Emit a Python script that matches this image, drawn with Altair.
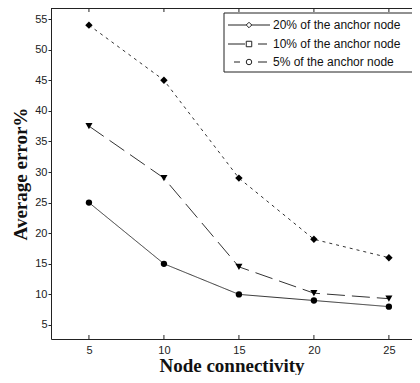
import altair as alt
import pandas as pd

# ---- data ----
node_connectivity = [5, 10, 15, 20, 25]
err_20 = [54, 45, 29, 19, 16]          # dotted, diamond markers
err_10 = [25, 15, 10, 9, 8]            # solid, circle markers
err_5 = [37.5, 29, 14.5, 10.2, 9.3]    # dashed, triangle markers
legend_labels = ["20% of the anchor node", "10% of the anchor node", "5% of the anchor node"]
x_ticks = [5, 10, 15, 20, 25]
y_ticks = [5, 10, 15, 20, 25, 30, 35, 40, 45, 50, 55]

W, H = 361, 331
XDOM = [2.47, 26.54]
YDOM = [2.71, 56.8]

df = pd.DataFrame({
    "x": node_connectivity * 3,
    "y": err_20 + err_10 + err_5,
    "series": [legend_labels[0]] * 5 + [legend_labels[1]] * 5 + [legend_labels[2]] * 5,
})

xs = alt.Scale(domain=XDOM, nice=False, zero=False)
ys = alt.Scale(domain=YDOM, nice=False, zero=False)

x_axis = alt.Axis(values=x_ticks, tickSize=0, labelPadding=5, grid=False, labelOverlap=False,
                  labelFont="Liberation Sans", labelFontSize=11, labelColor="#222",
                  domainColor="#222", title="Node connectivity",
                  titleFont="Liberation Serif", titleFontSize=19, titleFontWeight="bold",
                  titleColor="#111", titlePadding=1)
y_axis = alt.Axis(values=y_ticks, tickSize=3, labelPadding=1, grid=False, labelOverlap=False,
                  labelFont="Liberation Sans", labelFontSize=11, labelColor="#222",
                  domainColor="#222", tickColor="#222", title="Average error%",
                  titleFont="Liberation Serif", titleFontSize=19, titleFontWeight="bold",
                  titleColor="#111", titlePadding=4)

styles = [
    (legend_labels[0], [3, 4], "diamond", 55),
    (legend_labels[1], [1, 0], "circle", 40),
    (legend_labels[2], [18, 7], "triangle-down", 50),
]

layers = []
for name, dash, shape, size in styles:
    base = alt.Chart(df).transform_filter(alt.datum.series == name)
    enc_x = alt.X("x:Q", scale=xs, axis=x_axis)
    enc_y = alt.Y("y:Q", scale=ys, axis=y_axis)
    layers.append(base.mark_line(color="#333", strokeWidth=1, strokeDash=dash).encode(x=enc_x, y=enc_y))
    layers.append(base.mark_point(shape=shape, filled=True, color="#000", size=size, opacity=1)
                  .encode(x=enc_x, y=enc_y))

# top border of the box (right border lies outside the picture)
one = pd.DataFrame({"a": [0]})
layers.append(alt.Chart(one).mark_rule(color="#222", strokeWidth=1)
              .encode(x=alt.value(0), x2=alt.value(W), y=alt.value(0.5)))

# inward x ticks at bottom and top
tick_df = pd.DataFrame({"x": x_ticks})
layers.append(alt.Chart(tick_df).mark_rule(color="#222", strokeWidth=1)
              .encode(x=alt.X("x:Q", scale=xs, axis=x_axis), y=alt.value(H - 4), y2=alt.value(H)))
layers.append(alt.Chart(tick_df).mark_rule(color="#222", strokeWidth=1)
              .encode(x=alt.X("x:Q", scale=xs, axis=x_axis), y=alt.value(0), y2=alt.value(4)))

# custom legend
layers.append(alt.Chart(one).mark_rect(fill="white", stroke="#222", strokeWidth=1)
              .encode(x=alt.value(173), x2=alt.value(362), y=alt.value(5), y2=alt.value(64)))
row_y = [17, 36, 54]
leg_shapes = ["diamond", "square", "circle"]
for i, lab in enumerate(legend_labels):
    yy = row_y[i]
    if i == 0:
        segs = [(177, 219)]
    elif i == 1:
        segs = [(177, 194), (207, 216)]
    else:
        segs = [(183, 189), (207, 216)]
    for a, b in segs:
        layers.append(alt.Chart(one).mark_rule(color="#222", strokeWidth=1)
                      .encode(x=alt.value(a), x2=alt.value(b), y=alt.value(yy)))
    layers.append(alt.Chart(one).mark_point(shape=leg_shapes[i], filled=True, fill="white",
                                            stroke="#222", strokeWidth=1, size=30, opacity=1)
                  .encode(x=alt.value(198), y=alt.value(yy)))
    layers.append(alt.Chart(pd.DataFrame({"label": [lab]}))
                  .mark_text(align="left", baseline="middle", font="Liberation Sans",
                             fontSize=12, color="#111")
                  .encode(x=alt.value(222), y=alt.value(yy), text="label:N"))

chart = alt.layer(*layers).properties(
    width=W, height=H,
    autosize=alt.AutoSizeParams(type="none"),
    padding={"left": 43, "top": 0, "right": 0, "bottom": 36},
    background="white",
).configure_view(stroke="transparent", strokeWidth=0).configure_axis(labelOverlap=False)

chart.save("out.html", embed_options={"renderer": "svg", "actions": False})
